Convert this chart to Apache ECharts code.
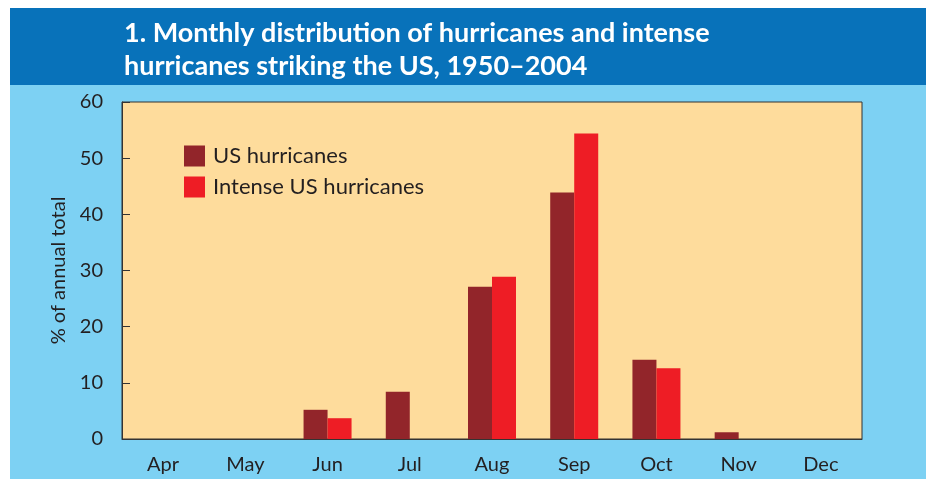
<!DOCTYPE html>
<html>
<head>
<meta charset="utf-8">
<script src="https://cdn.jsdelivr.net/npm/echarts@6/dist/echarts.min.js"></script>
<style>
  html, body { margin: 0; padding: 0; background: #fff; }
  #chart { width: 926px; height: 479px; }
</style>
</head>
<body>
<div id="chart"></div>
<script>
// months and % of annual total
const months = ['Apr', 'May', 'Jun', 'Jul', 'Aug', 'Sep', 'Oct', 'Nov', 'Dec']
const usHurricanes = [0, 0, 5.2, 8.4, 27.1, 43.9, 14.1, 1.2, 0]
const intenseHurricanes = [0, 0, 3.7, 0, 28.9, 54.4, 12.6, 0, 0]
const yTicks = { min: 0, max: 60, interval: 10 }

const font = 'Lato, "Open Sans", sans-serif'
const textColor = '#231f20'

const chart = echarts.init(document.getElementById('chart'))
chart.setOption({
  animation: false,
  textStyle: { fontFamily: font },
  graphic: [
    // dark blue title band
    { type: 'rect', shape: { x: 10, y: 8, width: 916, height: 77 }, style: { fill: '#0872ba' }, z: -10 },
    // light blue panel behind the chart
    { type: 'rect', shape: { x: 10, y: 85, width: 916, height: 394 }, style: { fill: '#7dd1f3' }, z: -10 }
  ],
  title: {
    text: '1. Monthly distribution of hurricanes and intense\nhurricanes striking the US, 1950–2004',
    left: 119,
    top: 12,
    textStyle: {
      color: '#fff',
      fontFamily: font,
      fontWeight: 'bold',
      fontSize: 27,
      lineHeight: 33
    }
  },
  legend: {
    orient: 'vertical',
    left: 184,
    top: 145,
    padding: 0,
    itemWidth: 21,
    itemHeight: 21,
    itemGap: 9,
    icon: 'rect',
    textStyle: { fontSize: 22, color: textColor, fontFamily: font, padding: [0, 0, 0, 3] },
    data: ['US hurricanes', 'Intense US hurricanes']
  },
  grid: {
    left: 122,
    top: 102,
    width: 740,
    height: 337,
    show: true,
    backgroundColor: '#fedc9c',
    borderColor: '#333',
    borderWidth: 1
  },
  xAxis: {
    type: 'category',
    data: months,
    axisLine: { lineStyle: { color: '#333', width: 1 } },
    axisTick: { inside: true, length: 6, lineStyle: { color: '#333' } },
    axisLabel: { fontSize: 20, color: textColor, margin: 16 }
  },
  yAxis: {
    type: 'value',
    min: yTicks.min,
    max: yTicks.max,
    interval: yTicks.interval,
    name: '% of annual total',
    nameLocation: 'middle',
    nameGap: 52,
    nameTextStyle: { fontSize: 20, color: textColor },
    axisLine: { show: true, lineStyle: { color: '#333', width: 1 } },
    axisTick: { show: true, inside: true, length: 8, lineStyle: { color: '#333' } },
    axisLabel: { fontSize: 20, color: textColor, margin: 19 },
    splitLine: { show: false }
  },
  series: [
    {
      name: 'US hurricanes',
      type: 'bar',
      data: usHurricanes,
      barWidth: 24,
      barGap: '0%',
      itemStyle: { color: '#92252a' }
    },
    {
      name: 'Intense US hurricanes',
      type: 'bar',
      data: intenseHurricanes,
      barWidth: 24,
      itemStyle: { color: '#ee1d25' }
    }
  ]
})
</script>
</body>
</html>
